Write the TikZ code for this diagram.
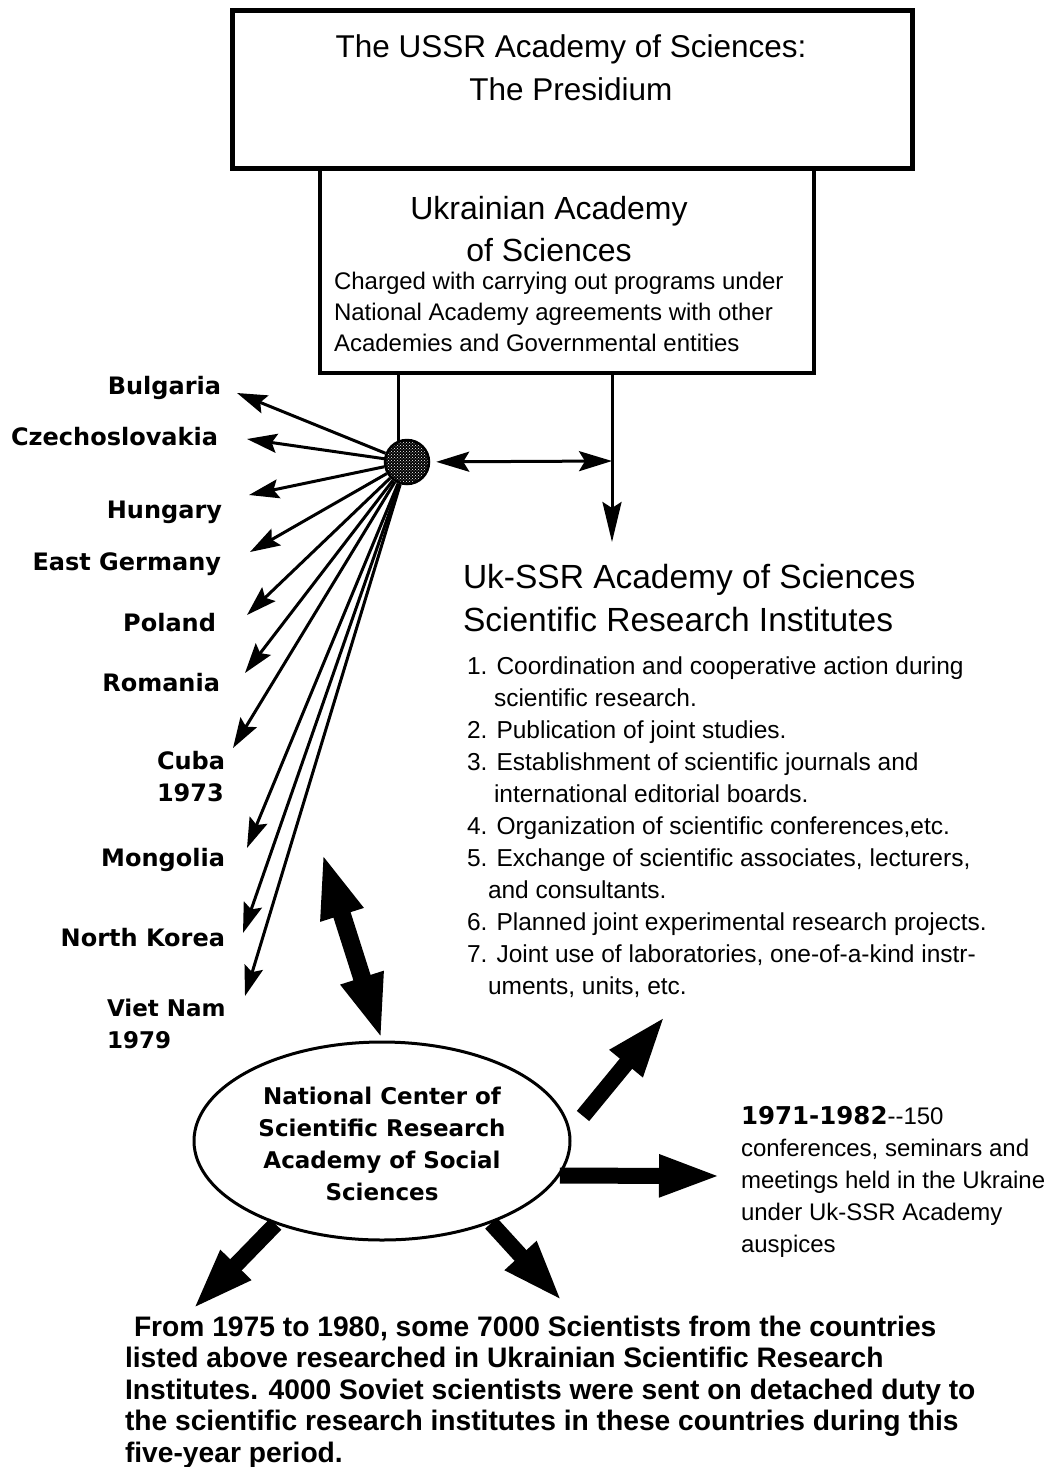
\documentclass[tikz,border=0pt]{standalone}
\usepackage{fontspec}
\setmainfont{Liberation Sans}
\newfontfamily\chic{DejaVu Sans}
\usetikzlibrary{arrows.meta,shapes.geometric,patterns}
\newcommand{\fsz}[2]{\fontsize{#1}{#2}\selectfont}
\begin{document}
\begin{tikzpicture}[x=1pt,y=-1pt,
  frame/.style={draw, inner sep=0pt, outer sep=0pt, anchor=north west},
  txt/.style={inner sep=0pt, outer sep=0pt},
  country/.style={txt, font=\chic\bfseries\fsz{24}{32}},
  thinline/.style={line width=3pt},
  spoke/.style={line width=3pt, -{Stealth[length=30pt,width=19pt,inset=5pt]}},
  bigarrow/.style={line width=16pt, -{Triangle[length=63pt,width=38pt]}},
  bigdouble/.style={line width=18pt, {Triangle[length=66pt,width=40pt]}-{Triangle[length=66pt,width=40pt]}}
]
\useasboundingbox (0,0) rectangle (1047,1467);

% ---- boxes ----
\node[frame, line width=5pt, minimum width=680pt, minimum height=158pt] (ussr) at (232,10) {};
\node[txt, font=\fsz{31.5}{43}, align=center, anchor=north] (ussrtxt) at (571,35)
  {The USSR Academy of Sciences:\\The Presidium};
\node[frame, line width=3.5pt, minimum width=494pt, minimum height=205pt] (ukr) at (320,168) {};
\node[txt, font=\fsz{32}{42}, align=center, anchor=north] (ukrtitle) at (549,196)
  {Ukrainian Academy\\of Sciences};
\node[txt, font=\fsz{24}{31}, align=left, anchor=north west] (ukrtxt) at (334,272)
  {Charged with carrying out programs under\\National Academy agreements with other\\Academies and Governmental entities};

% ---- hub ----
\node[circle, draw, line width=2.5pt, minimum size=44pt, inner sep=0pt,
      preaction={fill=black}, pattern=crosshatch dots, pattern color=white] (hub) at (407,462) {};

\coordinate (hl) at (398,373);
\draw[thinline, shorten >=-3pt] (hl) -- (hl |- hub.north);
\coordinate (rl) at (612,373);
\coordinate (rtip) at (612,542);
\draw[thinline, -{Stealth[length=40pt,width=19pt,inset=6pt]}] (rl) -- (rtip);
\coordinate (junc) at (612,461);
\draw[thinline, {Stealth[length=33pt,width=20pt,inset=6pt]}-{Stealth[length=33pt,width=20pt,inset=6pt]}, shorten <=6pt] (hub) -- (junc);

% ---- countries ----
\node[country, anchor=base east] (bul) at (221,394) {Bulgaria};
\node[country, anchor=base east] (cze) at (218,445) {Czechoslovakia};
\node[country, anchor=base east] (hun) at (222,518) {Hungary};
\node[country, anchor=base east] (ger) at (221,570) {East Germany};
\node[country, anchor=base east] (pol) at (216,631) {Poland};
\node[country, anchor=base east] (rom) at (220,691) {Romania};
\node[country, align=left, anchor=north west] (cub) at (157,751) {Cuba\\1973};
\node[country, anchor=base east] (mon) at (225,866) {Mongolia};
\node[country, anchor=base east] (nko) at (225,946) {North Korea};
\node[country, align=left, anchor=north west, font=\chic\bfseries\fsz{23}{32}] (vie) at (107,999) {Viet Nam\\1979};

\foreach \n/\p in {1/{237,393},2/{247,439},3/{249,495},4/{250,552},5/{247,615},
                   6/{245,673},7/{233,748},8/{247,848},9/{243,933},10/{245,996}}{
  \coordinate (t\n) at (\p);
  \draw[spoke] (hub) -- (t\n);
}

% ---- institutes ----
\node[txt, font=\fsz{33.5}{43}, align=left, anchor=north west] (inst) at (463,564)
  {Uk-SSR Academy of Sciences\\Scientific Research Institutes};
\node[txt, font=\fsz{24.5}{32}, align=left, anchor=north west] (list) at (467,657)
  {1. Coordination and cooperative action during\\
   \hspace*{27pt}scientific research.\\
   2. Publication of joint studies.\\
   3. Establishment of scientific journals and\\
   \hspace*{27pt}international editorial boards.\\
   4. Organization of scientific conferences,etc.\\
   5. Exchange of scientific associates, lecturers,\\
   \hspace*{21pt}and consultants.\\
   6. Planned joint experimental research projects.\\
   7. Joint use of laboratories, one-of-a-kind instr-\\
   \hspace*{21pt}uments, units, etc.};

% ---- ellipse ----
\node[ellipse, draw, line width=3pt, minimum width=376pt, minimum height=198pt, inner sep=0pt,
      align=center, font=\chic\bfseries\fsz{23}{32}] (ell) at (382,1141)
  {\rule{0pt}{24pt}National Center of\\Scientific Research\\Academy of Social\\Sciences};

% ---- right text ----
\node[txt, font=\fsz{24}{32}, align=left, anchor=north west] (conf) at (741,1106)
  {{\chic\bfseries\fontsize{24.5}{32}\selectfont 1971-1982}-{}-150\\
   conferences, seminars and\\meetings held in the Ukraine\\under Uk-SSR Academy\\auspices};

% ---- bottom text ----
\node[txt, font=\bfseries\fsz{28.2}{31.5}, align=left, anchor=north west] (para) at (125,1316)
  {\hspace*{9pt}From 1975 to 1980, some 7000 Scientists from the countries\\
   listed above researched in Ukrainian Scientific Research\\
   Institutes. 4000 Soviet scientists were sent on detached duty to\\
   the scientific research institutes in these countries during this\\
   five-year period.};

% ---- thick arrows ----
\coordinate (dtop) at (322,852);
\draw[bigdouble] (dtop) -- (ell.north);
\coordinate (urs) at (583,1116);
\coordinate (ure) at (666,1015);
\draw[bigarrow] (urs) -- (ure);
\coordinate (he) at (722,1176);
\draw[bigarrow] (ell.-11.3) -- (he);
\coordinate (bl) at (192,1310);
\draw[bigarrow] (ell.218.5) -- (bl);
\coordinate (br) at (563,1302);
\draw[bigarrow] (ell.-37.6) -- (br);
\end{tikzpicture}
\end{document}
